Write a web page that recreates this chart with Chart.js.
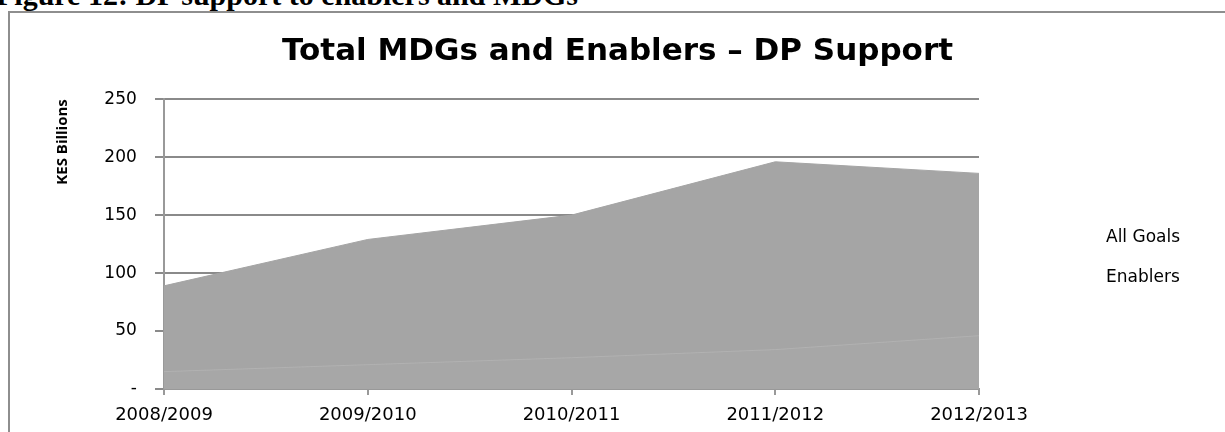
<!DOCTYPE html>
<html><head><meta charset="utf-8">
<script src="https://cdn.jsdelivr.net/npm/chart.js@4"></script>
<style>
html,body{margin:0;padding:0;overflow:hidden;width:1225px;height:432px;background:#fff;}
#cap{position:absolute;left:-4px;top:-20px;font:bold 30px "Liberation Serif",serif;white-space:nowrap;color:#000;line-height:30px;}
#box{position:absolute;left:8px;top:11px;width:1240px;height:440px;border:2px solid #8e8e8e;}
#c{position:absolute;left:0;top:0;}
</style></head><body>
<div id="cap">Figure 12: DP support to enablers and MDGs</div>
<div id="box"><canvas id="c" width="1215" height="421"></canvas></div>
<script>
const categories = ["2008/2009", "2009/2010", "2010/2011", "2011/2012", "2012/2013"];
const allGoals = [89, 129, 150, 196, 186];
const enablers = [15, 21, 27, 34, 46];
const seriesNames = ["All Goals", "Enablers"];
const yTicks = [0, 50, 100, 150, 200, 250];
const yTickLabels = ["-", "50", "100", "150", "200", "250"];
const chartTitle = "Total MDGs and Enablers \u2013 DP Support";
const yTitle = "KES Billions";

const NB = "\u00a0\u00a0\u00a0";

const textLegend = {
  id: 'textLegend',
  afterDraw(chart) {
    const ctx = chart.ctx;
    ctx.save();
    ctx.font = '17px "DejaVu Sans"';
    ctx.fillStyle = '#000';
    ctx.textBaseline = 'middle';
    chart.data.datasets.forEach((ds, i) => {
      ctx.fillText(ds.label, chart.chartArea.right + 127, chart.chartArea.top + 138 + i * 40);
    });
    ctx.restore();
  }
};

new Chart(document.getElementById('c'), {
  type: 'line',
  data: {
    labels: categories,
    datasets: [
      {label: seriesNames[0], data: allGoals, fill: 'origin', backgroundColor: '#a5a5a5', borderColor: '#a5a5a5', borderWidth: 1, pointRadius: 0, tension: 0, order: 2},
      {label: seriesNames[1], data: enablers, fill: 'origin', backgroundColor: '#a7a7a7', borderColor: 'rgba(195,195,195,0.4)', borderWidth: 1, pointRadius: 0, tension: 0, order: 1}
    ]
  },
  options: {
    responsive: false,
    animation: false,
    layout: {padding: 0},
    plugins: {
      legend: {display: false},
      tooltip: {enabled: false},
      title: {display: true, text: chartTitle, font: {family: "DejaVu Sans", size: 31, weight: 'bold'}, color: '#000', padding: {top: 20, bottom: 29}}
    },
    scales: {
      x: {
        offset: false,
        z: 1,
        grid: {display: true, drawOnChartArea: false, drawTicks: true, tickLength: 6, color: '#999', lineWidth: 2},
        border: {display: true, color: '#999', width: 2},
        ticks: {font: {family: "DejaVu Sans", size: 18}, color: '#000', padding: 10, maxRotation: 0},
        afterFit(s) { s.height = 45; }
      },
      y: {
        min: 0, max: 250,
        z: 1,
        afterBuildTicks(s) { s.ticks = yTicks.map(v => ({value: v})); },
        grid: {color: 'rgba(72,72,72,0.64)', lineWidth: 2, tickLength: 9, drawTicks: true},
        border: {display: true, color: '#999', width: 2},
        ticks: {font: {family: "DejaVu Sans", size: 17}, color: '#000', padding: 2, callback: (v) => yTickLabels[yTicks.indexOf(v)] + NB},
        title: {display: true, text: yTitle, align: 'end', font: {family: "Open Sans", size: 15, weight: 'bold'}, color: '#000', padding: {top: 44, bottom: 0}},
        afterFit(s) { s.width = 154; }
      },
      legendSpace: {
        position: 'right',
        display: true,
        grid: {display: false},
        border: {display: false},
        ticks: {display: false},
        afterFit(s) { s.width = 246; }
      }
    }
  },
  plugins: [textLegend]
});
</script>
</body></html>
